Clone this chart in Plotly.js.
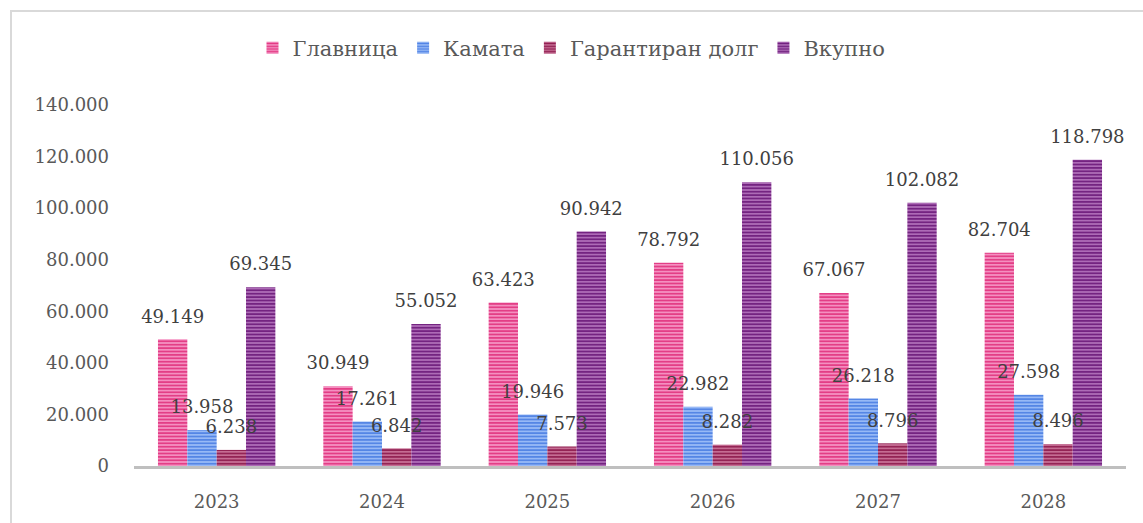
<!DOCTYPE html>
<html>
<head>
<meta charset="utf-8">
<script src="https://cdn.plot.ly/plotly-3.0.1.min.js"></script>
<style>
  html, body { margin: 0; padding: 0; background: #ffffff; }
  #frame { position: absolute; left: 10px; top: 10px; width: 1200px; height: 600px;
           border: 2px solid #d9d9d9; box-sizing: border-box; }
  #chart { position: absolute; left: 0; top: 0; width: 1143px; height: 523px; }
</style>
</head>
<body>
<div id="frame"></div>
<div id="chart"></div>
<script>
const years = ['2023', '2024', '2025', '2026', '2027', '2028'];
const seriesNames = ['Главница', 'Камата', 'Гарантиран долг', 'Вкупно'];
const glavnica = [49149, 30949, 63423, 78792, 67067, 82704];
const kamata = [13958, 17261, 19946, 22982, 26218, 27598];
const garantiran = [6238, 6842, 7573, 8282, 8796, 8496];
const vkupno = [69345, 55052, 90942, 110056, 102082, 118798];
const yTicks = [0, 20000, 40000, 60000, 80000, 100000, 120000, 140000];

const seriesValues = [glavnica, kamata, garantiran, vkupno];
const fgColors = ['#e2347f', '#4d80e4', '#8f1b4e', '#6d1c7b'];
const bgColors = ['#f48fc0', '#97b9f6', '#c56d93', '#ad6bb6'];
const FONT = 'DejaVu Serif, Liberation Serif, serif';
const TXT = '#595959';

const traces = [];
seriesValues.forEach((vals, i) => {
  traces.push({
    type: 'bar',
    name: seriesNames[i],
    x: years,
    y: vals,
    offsetgroup: String(i + 1),
    marker: {
      color: bgColors[i],
      line: { width: 0 },
      pattern: { shape: '-', fgcolor: fgColors[i], bgcolor: bgColors[i], size: 3.4, solidity: 0.45, fillmode: 'replace' }
    },
    hoverinfo: 'skip'
  });
});
seriesValues.forEach((vals, i) => {
  traces.push({
    type: 'scatter',
    mode: 'markers+text',
    x: years,
    y: vals,
    offsetgroup: String(i + 1),
    showlegend: false,
    texttemplate: '%{y:,d}',
    textposition: 'top center',
    textfont: { family: FONT, size: 18, color: '#404040' },
    marker: { size: 18, opacity: 0 },
    cliponaxis: false,
    hoverinfo: 'skip'
  });
});

const layout = {
  width: 1143,
  height: 523,
  margin: { l: 134, r: 17, t: 105, b: 57 },
  paper_bgcolor: 'rgba(0,0,0,0)',
  plot_bgcolor: 'rgba(0,0,0,0)',
  separators: ',.',
  barmode: 'group',
  bargap: 0.29,
  bargroupgap: 0,
  scattermode: 'group',
  scattergap: 0.29,
  font: { family: FONT, size: 18, color: TXT },
  showlegend: true,
  legend: {
    orientation: 'h',
    x: 0.5, xanchor: 'center', xref: 'container',
    y: 1 - 48 / 523, yanchor: 'middle', yref: 'container',
    font: { family: FONT, size: 21, color: TXT },
    itemwidth: 30,
    traceorder: 'normal'
  },
  xaxis: {
    type: 'category',
    showline: true, linecolor: '#bfbfbf', linewidth: 3,
    showgrid: false, zeroline: false, ticks: '',
    tickfont: { family: FONT, size: 18, color: TXT },
    ticklabelstandoff: 17
  },
  yaxis: {
    range: [0, 140000],
    tickvals: yTicks,
    tickformat: ',d',
    showline: false, showgrid: false, zeroline: false, ticks: '',
    tickfont: { family: FONT, size: 18, color: TXT },
    ticklabelstandoff: 24
  }
};

Plotly.newPlot('chart', traces, layout, { displayModeBar: false, staticPlot: true });
</script>
</body>
</html>
